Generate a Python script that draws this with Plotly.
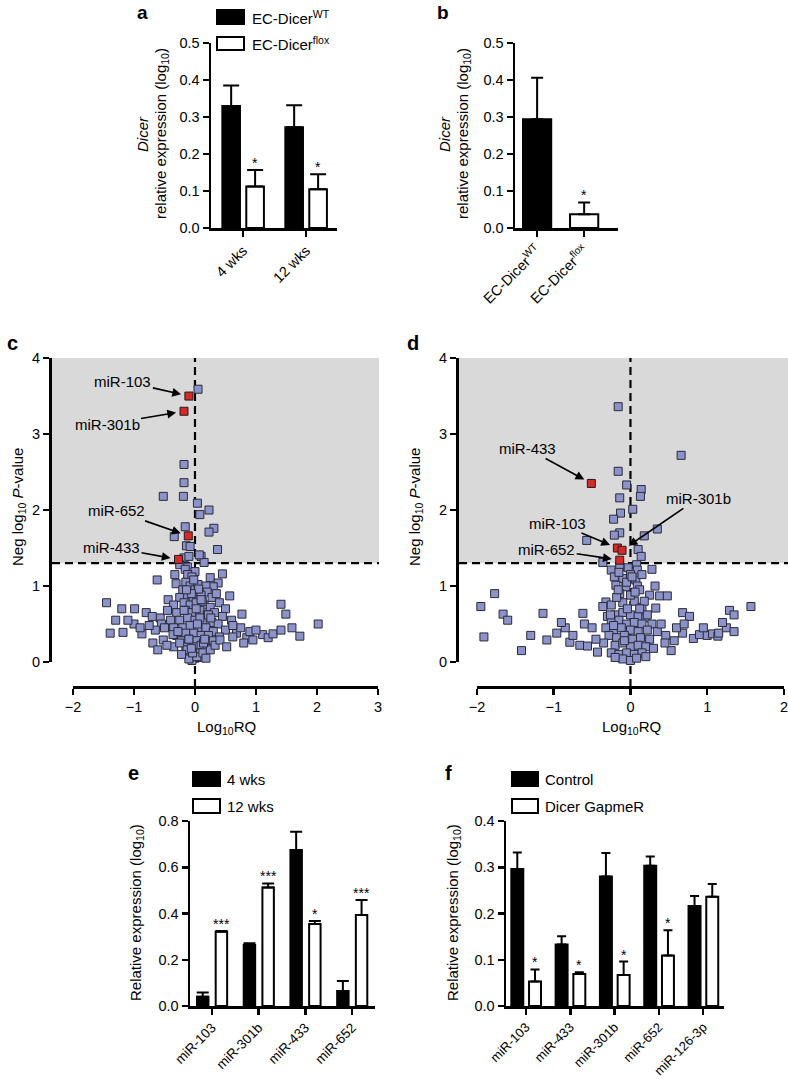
import plotly.graph_objects as go

W, H = 788, 1079


def px(x):
    return x / W


def py(y):
    return 1 - y / H


FONT = "Liberation Sans, Arial, Helvetica, sans-serif"

# ---------------- data ----------------
a_groups = ["4 wks", "12 wks"]
a_wt = [0.330, 0.272]
a_wt_err = [0.055, 0.060]
a_flox = [0.112, 0.105]
a_flox_err = [0.045, 0.040]
a_stars = ["*", "*"]

b_groups = ["EC-Dicer<sup>WT</sup>", "EC-Dicer<sup>flox</sup>"]
b_vals = [0.294, 0.037]
b_err = [0.112, 0.032]
b_stars = ["", "*"]

e_groups = ["miR-103", "miR-301b", "miR-433", "miR-652"]
e_4wks = [0.040, 0.264, 0.675, 0.065]
e_4wks_err = [0.018, 0.007, 0.079, 0.043]
e_12wks = [0.321, 0.512, 0.355, 0.394]
e_12wks_err = [0.003, 0.018, 0.013, 0.064]
e_stars = ["***", "***", "*", "***"]

f_groups = ["miR-103", "miR-433", "miR-301b", "miR-652", "miR-126-3p"]
f_ctrl = [0.296, 0.133, 0.280, 0.303, 0.216]
f_ctrl_err = [0.036, 0.018, 0.051, 0.020, 0.022]
f_gap = [0.053, 0.069, 0.067, 0.109, 0.236]
f_gap_err = [0.026, 0.004, 0.029, 0.055, 0.028]
f_stars = ["*", "*", "*", "*", ""]

# volcano c (4 wks)
c_x = [0.05, -0.18, -0.18, -0.52, -0.19, 0.04, 0.23, 0.08, -0.16, 0.31, 0.23, -0.34,
       -0.14, -0.08, 0.37, -0.18, -0.10, 0.10, 0.15, -0.12, -0.33, 0.00, 0.45, -0.62,
       0.25, 0.38, 0.30, -0.31, 0.57, -1.45, 1.41, -1.20, -0.99, -0.80, 1.49, 0.77,
       -0.25, -0.16, 0.07, -0.44, -0.57,
       -0.12, -0.05, -0.15, -0.08, 0.00, 0.05, 0.18, 0.20, -0.20, -0.25, -0.12, -0.03,
       0.10, 0.28, 0.35, 0.40, -0.35, -0.18, -0.08, 0.02, 0.15, 0.25, 0.50, -0.45,
       -0.30, -0.15, -0.05, 0.08, 0.20, 0.32, 0.45, 0.60, -0.55, -0.40, -0.25, -0.12,
       0.00, 0.12, 0.28, 0.38, -0.65, -0.50, -0.35, -0.20, -0.08, 0.05, 0.18, 0.30,
       0.50, 0.68, -0.30, -0.15, -0.02, 0.10, 0.22, 0.40, -0.22, -0.10, 0.03, 0.15,
       0.30, -0.35, -0.15, -0.02, 0.10, 0.20, -0.08, 0.05, 0.00, -0.05, 0.08, -0.10,
       -1.39, -1.18, -0.87, -0.69, -0.61, -0.52, -0.46, -0.36, -0.25, -0.13, -1.00,
       -0.90, -1.10, -0.75, -1.30, -0.70,
       0.03, 0.13, 0.25, 0.33, 0.41, 0.52, 0.62, 0.85, 0.95, 1.11, 1.20, 1.28, 1.41,
       1.59, 1.72, 2.02, 0.90, 1.00, 0.75, 0.62, 0.80,
       -0.02, 0.06, -0.06, 0.12, -0.18, 0.22, -0.28, 0.02, 0.14, -0.10, 0.08, -0.04,
       0.18, -0.22, 0.26, -0.14, 0.04, 0.10, -0.06, 0.16]
c_y = [3.59, 2.60, 2.36, 2.18, 2.18, 2.09, 2.00, 1.94, 1.78, 1.76, 1.71, 1.65,
       1.53, 1.52, 1.48, 1.37, 1.39, 1.39, 1.31, 1.25, 1.15, 1.19, 1.16, 1.08,
       1.11, 1.04, 0.99, 1.03, 0.87, 0.78, 0.76, 0.70, 0.70, 0.65, 0.63, 0.63,
       1.28, 1.22, 1.41, 0.82, 0.58,
       1.15, 1.12, 1.05, 1.00, 0.95, 1.02, 1.00, 0.92, 0.95, 0.85, 0.88, 0.85,
       0.88, 0.85, 0.90, 0.78, 0.75, 0.78, 0.75, 0.78, 0.75, 0.72, 0.70, 0.68,
       0.65, 0.68, 0.65, 0.68, 0.62, 0.65, 0.60, 0.55, 0.50, 0.55, 0.55, 0.58,
       0.55, 0.55, 0.52, 0.50, 0.42, 0.45, 0.45, 0.45, 0.48, 0.45, 0.45, 0.40,
       0.42, 0.38, 0.35, 0.38, 0.38, 0.35, 0.35, 0.33, 0.28, 0.30, 0.28, 0.26,
       0.28, 0.20, 0.20, 0.20, 0.22, 0.18, 0.10, 0.12, 0.05, 0.02, 0.06, 0.04,
       0.38, 0.39, 0.37, 0.25, 0.16, 0.29, 0.22, 0.36, 0.25, 0.16, 0.50,
       0.45, 0.55, 0.48, 0.55, 0.60,
       0.07, 0.12, 0.16, 0.22, 0.29, 0.20, 0.33, 0.32, 0.29, 0.36, 0.32, 0.37, 0.42,
       0.45, 0.34, 0.50, 0.40, 0.42, 0.45, 0.48, 0.25,
       1.08, 0.96, 0.90, 0.80, 0.68, 0.62, 0.40, 0.70, 0.25, 0.30, 0.58, 0.12,
       0.05, 0.10, 0.58, 0.95, 0.50, 0.82, 0.18, 0.30]
c_red_x = [-0.10, -0.18, -0.11, -0.27]
c_red_y = [3.50, 3.30, 1.66, 1.35]
c_red_lab = ["miR-103", "miR-301b", "miR-652", "miR-433"]

# volcano d (12 wks)
d_x = [-0.16, 0.66, -0.16, -0.05, 0.14, 0.13, -0.14, 0.03, -0.13, -0.22, 0.35, 0.18,
       -0.14, -0.21, -0.57, 0.10, 0.14, -0.36, -0.25, 0.28, 0.08, -0.03,
       -0.14, 0.09, -0.21, -0.10, -0.19, -0.06, 0.07, 0.09, 0.32, -1.77, -1.95, 0.25,
       0.38, 0.48, -0.14, -0.32, -0.36, 0.33, 1.57, 1.29, 1.35, 0.68, 0.77, -0.62,
       -1.14, -1.66,
       -1.91, -1.42, -1.09, -0.96, -0.79, -0.66, -0.56, -0.43, 0.53, 0.57, 0.46, 0.68,
       0.82, 0.90, 1.00, 1.07, 1.14, 1.15,
       -0.30, -0.20, -0.10, 0.00, 0.10, 0.20, -0.25, -0.15, -0.05, 0.05, 0.15, 0.28,
       -0.32, -0.22, -0.12, 0.00, 0.10, 0.22, -0.28, -0.18, -0.08, 0.03, 0.13, 0.25,
       -0.35, -0.20, -0.10, 0.00, 0.10, 0.20, 0.30, -0.25, -0.15, -0.05, 0.05, 0.15,
       -0.10, 0.00, 0.08, -0.20, 0.20, -0.25, -0.10, 0.05, 0.15, -0.18, 0.00, 0.12,
       -0.05, 0.15, -0.15, 0.00, -0.60, -0.50, -0.45, -0.75, -0.85, -0.90, 0.35, 0.40,
       0.45, 0.60, 0.70, 0.95, 1.25, 1.35, 1.20, -1.30, -1.60,
       -0.04, 0.06, -0.16, 0.18, -0.26, 0.02, 0.12, -0.08, 0.22, -0.22]
d_y = [3.36, 2.72, 2.51, 2.33, 2.27, 2.18, 2.16, 2.01, 1.96, 1.88, 1.75, 1.66,
       1.70, 1.67, 1.60, 1.48, 1.39, 1.31, 1.21, 1.22, 1.28, 1.24,
       1.25, 1.21, 1.12, 1.10, 1.01, 0.99, 1.08, 1.00, 1.00, 0.90, 0.73, 0.88,
       0.87, 0.87, 0.90, 0.79, 0.73, 0.71, 0.73, 0.68, 0.62, 0.65, 0.60, 0.64,
       0.64, 0.63,
       0.33, 0.15, 0.29, 0.38, 0.26, 0.22, 0.21, 0.13, 0.15, 0.28, 0.35, 0.38,
       0.31, 0.36, 0.35, 0.37, 0.34, 0.38,
       0.60, 0.62, 0.65, 0.62, 0.60, 0.58, 0.52, 0.55, 0.50, 0.52, 0.50, 0.50,
       0.45, 0.42, 0.45, 0.42, 0.40, 0.42, 0.35, 0.32, 0.35, 0.30, 0.32, 0.30,
       0.25, 0.22, 0.25, 0.20, 0.22, 0.20, 0.18, 0.12, 0.10, 0.12, 0.10, 0.12,
       0.04, 0.02, 0.05, 0.06, 0.07, 0.75, 0.78, 0.80, 0.72, 0.85, 0.88, 0.95,
       1.05, 1.15, 1.18, 1.15, 0.50, 0.45, 0.30, 0.35, 0.45, 0.52, 0.40, 0.50,
       0.25, 0.45, 0.50, 0.45, 0.45, 0.40, 0.52, 0.35, 0.55,
       0.70, 0.92, 0.95, 0.80, 0.62, 1.12, 0.70, 0.28, 0.62, 0.48]
d_red_x = [-0.51, -0.17, -0.11, -0.14]
d_red_y = [2.35, 1.50, 1.47, 1.34]
d_red_lab = ["miR-433", "miR-103", "miR-301b", "miR-652"]

# ---------------- figure ----------------
fig = go.Figure()

BLUE = "#8c93c8"
RED = "#d42a2a"
GRAY = "#d9d9d9"


def bar(x, y, err, color, width, offset, xa, ya, capw):
    n = len(y)
    return go.Bar(
        x=x, y=y, width=width, offset=offset, xaxis=xa, yaxis=ya,
        marker=dict(color=color, line=dict(color="black", width=2)),
        error_y=dict(type="data", array=err, arrayminus=[0] * n, symmetric=False,
                     color="black", thickness=2, width=capw),
        hoverinfo="skip")


# panel a
fig.add_trace(bar(a_groups, a_wt, a_wt_err, "black", 0.28, -0.33, "x", "y", 8))
fig.add_trace(bar(a_groups, a_flox, a_flox_err, "white", 0.28, 0.05, "x", "y", 8))
# panel b
fig.add_trace(bar(b_groups, b_vals, b_err, ["black", "white"], 0.6, -0.3, "x2", "y2", 6))
# panel e
fig.add_trace(bar(e_groups, e_4wks, e_4wks_err, "black", 0.245, -0.32, "x5", "y5", 6))
fig.add_trace(bar(e_groups, e_12wks, e_12wks_err, "white", 0.245, 0.08, "x5", "y5", 6))
# panel f
fig.add_trace(bar(f_groups, f_ctrl, f_ctrl_err, "black", 0.27, -0.33, "x6", "y6", 4.5))
fig.add_trace(bar(f_groups, f_gap, f_gap_err, "white", 0.27, 0.07, "x6", "y6", 4.5))

# volcano plots
for xs, ys, rx, ry, xa, ya in [(c_x, c_y, c_red_x, c_red_y, "x3", "y3"),
                               (d_x, d_y, d_red_x, d_red_y, "x4", "y4")]:
    fig.add_trace(go.Scatter(x=xs, y=ys, mode="markers", xaxis=xa, yaxis=ya,
                             cliponaxis=False, hoverinfo="skip",
                             marker=dict(symbol="square", size=8, color=BLUE,
                                         line=dict(color="#2a2a3a", width=1))))
    fig.add_trace(go.Scatter(x=rx, y=ry, mode="markers", xaxis=xa, yaxis=ya,
                             cliponaxis=False, hoverinfo="skip",
                             marker=dict(symbol="square", size=8, color=RED,
                                         line=dict(color="#2a1a1a", width=1))))

axis_style = dict(showline=True, linecolor="black", linewidth=2.5, ticks="outside",
                  ticklen=6, tickwidth=2.5, tickcolor="black", showgrid=False,
                  zeroline=False, automargin=False, ticklabeloverflow="allow",
                  tickfont=dict(family=FONT, size=14.5, color="black"))
cat_font = dict(family=FONT, size=13.5, color="black")
cat_font_f = dict(family=FONT, size=13, color="black")

# domains (pixel based, in page coordinates)
a_dom_x = [px(211), px(337)]
b_dom_x = [px(515), px(618)]
top_dom_y = [py(228), py(43)]
c_dom_x = [px(73), px(378)]
d_dom_x = [px(477), px(784)]
v_dom_y = [py(662), py(358)]
v_xpos = py(687)
e_dom_x = [px(190), px(375)]
f_dom_x = [px(506), px(724)]
bot_dom_y = [py(1006), py(821)]

fig.update_layout(
    xaxis=dict(domain=a_dom_x, anchor="y", type="category", range=[-0.51, 1.49],
               tickangle=-45, **axis_style),
    yaxis=dict(domain=top_dom_y, anchor="x", range=[0, 0.5], dtick=0.1,
               tickformat=".1f", **axis_style),
    xaxis2=dict(domain=b_dom_x, anchor="y2", type="category", range=[-0.47, 1.72],
                tickangle=-45, **axis_style),
    yaxis2=dict(domain=top_dom_y, anchor="x2", range=[0, 0.5], dtick=0.1,
                tickformat=".1f", **axis_style),
    xaxis3=dict(domain=c_dom_x, anchor="free", position=v_xpos, range=[-2, 3.001],
                tickvals=[-2, -1, 0, 1, 2, 3], **axis_style),
    yaxis3=dict(domain=v_dom_y, anchor="free", position=px(50), range=[0, 4.001],
                tickvals=[0, 1, 2, 3, 4], **axis_style),
    xaxis4=dict(domain=d_dom_x, anchor="free", position=v_xpos, range=[-2, 2.001],
                tickvals=[-2, -1, 0, 1, 2], **axis_style),
    yaxis4=dict(domain=v_dom_y, anchor="free", position=px(457), range=[0, 4.001],
                tickvals=[0, 1, 2, 3, 4], **axis_style),
    xaxis5=dict(domain=e_dom_x, anchor="y5", type="category", range=[-0.47, 3.49],
                tickangle=-45, **axis_style),
    yaxis5=dict(domain=bot_dom_y, anchor="x5", range=[0, 0.8], dtick=0.2,
                tickformat=".1f", **axis_style),
    xaxis6=dict(domain=f_dom_x, anchor="y6", type="category", range=[-0.45, 4.47],
                tickangle=-45, **axis_style),
    yaxis6=dict(domain=bot_dom_y, anchor="x6", range=[0, 0.4], dtick=0.1,
                tickformat=".1f", **axis_style),
)
fig.update_layout(xaxis5_tickfont=cat_font, xaxis6_tickfont=cat_font_f)

shapes = []
annotations = []


def vmap(v, lo, hi, dom):
    return dom[0] + (v - lo) / (hi - lo) * (dom[1] - dom[0])


# volcano backgrounds / threshold lines
for dom_x, xr, left_px, right_px in [(c_dom_x, (-2, 3.001), 52, 379),
                                     (d_dom_x, (-2, 2.001), 459, 788)]:
    y_thr = vmap(1.3, 0, 4.001, v_dom_y)
    y_top = vmap(4, 0, 4.001, v_dom_y)
    x_zero = vmap(0, xr[0], xr[1], dom_x)
    shapes.append(dict(type="rect", xref="paper", yref="paper", x0=px(left_px), x1=px(right_px),
                       y0=y_thr, y1=y_top, fillcolor=GRAY, line=dict(width=0), layer="below"))
    shapes.append(dict(type="line", xref="paper", yref="paper", x0=px(left_px), x1=px(right_px),
                       y0=y_thr, y1=y_thr, line=dict(color="black", width=2.2, dash="8px,5px"),
                       layer="below"))
    shapes.append(dict(type="line", xref="paper", yref="paper", x0=x_zero, x1=x_zero,
                       y0=v_xpos, y1=y_top, line=dict(color="black", width=2.2, dash="8px,5px"),
                       layer="below"))


# legends
def legend_box(x0, x1, y0, y1, fill):
    shapes.append(dict(type="rect", xref="paper", yref="paper", x0=px(x0), x1=px(x1),
                       y0=py(y1), y1=py(y0), fillcolor=fill, line=dict(color="black", width=2)))


def text(x, y, s, size=14, angle=0, xanchor="center", bold=False, yanchor="middle"):
    if bold:
        s = "<b>" + s + "</b>"
    annotations.append(dict(x=px(x), y=py(y), xref="paper", yref="paper", text=s,
                            showarrow=False, textangle=angle, xanchor=xanchor, yanchor=yanchor,
                            borderpad=0, font=dict(family=FONT, size=size, color="black")))


legend_box(217, 244, 10, 24, "black")
legend_box(217, 244, 37, 50, "white")
text(251, 17, "EC-Dicer<sup>WT</sup>", 15, xanchor="left")
text(251, 44, "EC-Dicer<sup>flox</sup>", 15, xanchor="left")

legend_box(193, 220, 772, 786, "black")
legend_box(193, 220, 799, 813, "white")
text(226, 779, "4 wks", 15, xanchor="left")
text(226, 806, "12 wks", 15, xanchor="left")

legend_box(512, 538, 772, 786, "black")
legend_box(512, 538, 799, 813, "white")
text(544, 779, "Control", 15, xanchor="left")
text(544, 806, "Dicer GapmeR", 15, xanchor="left")

# panel letters
text(142, 1, "a", 19, bold=True, yanchor="top")
text(443, 1, "b", 19, bold=True, yanchor="top")
for lx, ly, s in [(12, 343, "c"), (413, 343, "d"), (133, 773, "e"), (448, 773, "f")]:
    text(lx, ly, s, 20, bold=True)

# axis titles
text(143, 134, "<i>Dicer</i>", 15, angle=-90)
text(162, 134, "relative expression (log<sub>10</sub>)", 15, angle=-90)
text(445, 134, "<i>Dicer</i>", 15, angle=-90)
text(464, 134, "relative expression (log<sub>10</sub>)", 15, angle=-90)
text(18, 507, "Neg log<sub>10</sub> <i>P</i>-value", 15, angle=-90)
text(415, 507, "Neg log<sub>10</sub> <i>P</i>-value", 15, angle=-90)
text(226, 727, "Log<sub>10</sub>RQ", 15)
text(631, 727, "Log<sub>10</sub>RQ", 15)
text(136, 913, "Relative expression (log<sub>10</sub>)", 15, angle=-90)
text(453, 913, "Relative expression (log<sub>10</sub>)", 15, angle=-90)


# significance stars
def stars(vals, errs, marks, offset, width, xa, ya):
    for i, (v, e, m) in enumerate(zip(vals, errs, marks)):
        if m:
            annotations.append(dict(x=i + offset + width / 2, y=v + e, xref=xa, yref=ya,
                                    text=m, showarrow=False, yanchor="bottom", yshift=-3,
                                    font=dict(family=FONT, size=14, color="black")))


stars(a_flox, a_flox_err, a_stars, 0.05, 0.28, "x", "y")
stars(b_vals, b_err, b_stars, -0.3, 0.6, "x2", "y2")
stars(e_12wks, e_12wks_err, e_stars, 0.08, 0.245, "x5", "y5")
stars(f_gap, f_gap_err, f_stars, 0.07, 0.27, "x6", "y6")

# volcano labels with arrows (label centre given as pixel offset from the marker)
c_lab_off = {"miR-103": (-66, -15), "miR-301b": (-77, 13),
             "miR-652": (-72, -25), "miR-433": (-67, -12)}
d_lab_off = {"miR-433": (-64, -35), "miR-103": (-60, -25),
             "miR-301b": (76, -52), "miR-652": (-73, -11)}
for rx, ry, labs, offs, xa, ya in [(c_red_x, c_red_y, c_red_lab, c_lab_off, "x3", "y3"),
                                   (d_red_x, d_red_y, d_red_lab, d_lab_off, "x4", "y4")]:
    for x, y, lab in zip(rx, ry, labs):
        ax, ay = offs[lab]
        annotations.append(dict(x=x, y=y, xref=xa, yref=ya, text=lab, showarrow=True,
                                ax=ax, ay=ay, axref="pixel", ayref="pixel",
                                arrowhead=2, arrowsize=1.1, arrowwidth=1.6,
                                arrowcolor="black", standoff=8,
                                font=dict(family=FONT, size=15, color="black")))

fig.update_layout(
    template="none",
    width=W, height=H, margin=dict(l=0, r=0, t=0, b=0, autoexpand=False),
    paper_bgcolor="white", plot_bgcolor="rgba(0,0,0,0)",
    showlegend=False, barmode="overlay", hovermode=False,
    font=dict(family=FONT, size=14, color="black"),
    shapes=shapes, annotations=annotations,
)

# remove the default page margin so the 788x1079 figure fills the window exactly
fig.write_html("out.html",
               config={"displayModeBar": False, "staticPlot": True},
               post_script="document.body.style.margin='0';"
                           "document.documentElement.style.overflow='hidden';")
